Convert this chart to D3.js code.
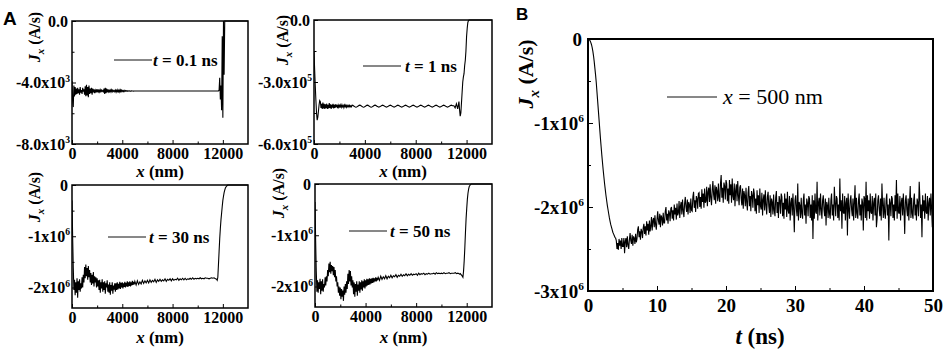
<!DOCTYPE html>
<html>
<head>
<meta charset="utf-8">
<script src="https://d3js.org/d3.v7.min.js"></script>
<style>
body { margin: 0; background: #fff; }
svg text { font-family: "Liberation Serif", "Times New Roman", serif; font-weight: bold; fill: #000; }
</style>
</head>
<body>
<script>
// Size of the figure
const width = 951, height = 353;

// ---------- data ----------
// Panel A: J_x along x (nm) at four times.
// Shared grid: every 50 nm up to 4950, every 100 nm up to 11400, then the edge region
const xTailA = [11450, 11500, 11550, 11600, 11650, 11700, 11750, 11800, 11850, 11900, 11950, 12000,
                12050, 12100, 12150, 12200, 12250, 12300, 12350, 12400, 12450, 12500, 12600, 13000, 14000];
const xGridA = d3.range(0, 5000, 50).concat(d3.range(5000, 11401, 100), xTailA);

// t = 0.1 ns, in 1e3 A/s
const jxT01 = [
  // 0 - 4950 (50 nm)
  -3.9, -5.2, -5.6, -4.2, -4.9, -4.3, -4.8, -4.4, -4.75, -4.35,
  -4.7, -4.45, -4.8, -4.3, -4.65, -4.5, -4.75, -4.35, -4.6, -4.45,
  -4.8, -4.25, -4.9, -4.15, -4.85, -4.3, -4.95, -4.2, -4.75, -4.4,
  -4.7, -4.35, -4.8, -4.4, -4.65, -4.45, -4.7, -4.5, -4.6, -4.45,
  -4.65, -4.45, -4.6, -4.5, -4.62, -4.48, -4.6, -4.5, -4.58, -4.52,
  -4.6, -4.4, -4.75, -4.35, -4.7, -4.4, -4.65, -4.45, -4.6, -4.5,
  -4.6, -4.5, -4.62, -4.48, -4.6, -4.5, -4.58, -4.52, -4.6, -4.5,
  -4.62, -4.46, -4.64, -4.48, -4.6, -4.5, -4.62, -4.49, -4.6, -4.5,
  -4.58, -4.52, -4.59, -4.51, -4.58, -4.53, -4.57, -4.53, -4.57, -4.54,
  -4.56, -4.54, -4.56, -4.55, -4.56, -4.54, -4.55, -4.55, -4.56, -4.55,
  // 5000 - 11400 (100 nm)
  -4.55, -4.55, -4.55, -4.55, -4.55, -4.55, -4.55, -4.55, -4.55, -4.55,
  -4.55, -4.55, -4.55, -4.55, -4.55, -4.55, -4.55, -4.55, -4.55, -4.55,
  -4.55, -4.55, -4.55, -4.55, -4.55, -4.55, -4.55, -4.55, -4.55, -4.55,
  -4.55, -4.55, -4.55, -4.55, -4.55, -4.55, -4.55, -4.55, -4.55, -4.55,
  -4.55, -4.55, -4.55, -4.55, -4.55, -4.55, -4.55, -4.55, -4.55, -4.55,
  -4.55, -4.55, -4.55, -4.55, -4.55, -4.55, -4.55, -4.55, -4.55, -4.55,
  -4.55, -4.55, -4.55, -4.55, -4.55,
  // edge
  -4.55, -4.55, -4.55, -4.55, -4.55, -4.5, -3.7, -5.1, -4.2, -5.8, -1.0, -6.3,
  0, -3.5, 0, 0, 0, 0, 0, 0, 0, 0, 0, 0, 0
];

// t = 1 ns, in 1e5 A/s
const jxT1 = [
  -1.5, -2.4, -3.2, -3.9, -4.5, -4.85, -4.7, -4.4, -4.1, -3.9,
  -3.95, -4.25, -4.05, -4.3, -4.0, -4.28, -4.05, -4.3, -4.08, -4.26,
  -4.05, -4.3, -4.1, -4.28, -4.02, -4.25, -4.08, -4.3, -4.1, -4.24,
  -4.06, -4.28, -4.1, -4.25, -4.08, -4.22, -4.1, -4.26, -4.12, -4.22,
  -4.1, -4.24, -4.12, -4.22, -4.1, -4.2, -4.14, -4.24, -4.12, -4.2,
  -4.12, -4.22, -4.13, -4.2, -4.14, -4.21, -4.13, -4.2, -4.15, -4.2,
  -4.12, -4.13, -4.15, -4.17, -4.19, -4.21, -4.22, -4.21, -4.19, -4.17,
  -4.15, -4.13, -4.12, -4.13, -4.15, -4.17, -4.19, -4.21, -4.22, -4.21,
  -4.19, -4.17, -4.15, -4.13, -4.12, -4.13, -4.15, -4.17, -4.19, -4.21,
  -4.22, -4.21, -4.19, -4.17, -4.15, -4.13, -4.12, -4.13, -4.15, -4.17,
  // 5000 - 11400
  -4.19, -4.22, -4.19, -4.15, -4.12, -4.15, -4.19, -4.22, -4.19, -4.15,
  -4.12, -4.15, -4.19, -4.22, -4.19, -4.15, -4.12, -4.15, -4.19, -4.22,
  -4.19, -4.15, -4.12, -4.15, -4.19, -4.22, -4.19, -4.15, -4.12, -4.15,
  -4.19, -4.22, -4.19, -4.15, -4.12, -4.15, -4.19, -4.22, -4.19, -4.15,
  -4.12, -4.15, -4.19, -4.22, -4.19, -4.15, -4.12, -4.15, -4.19, -4.22,
  -4.19, -4.15, -4.12, -4.15, -4.19, -4.22, -4.19, -4.15, -4.12, -4.15,
  -4.15, -4.25, -4.05, -4.3, -3.95,
  // edge
  -4.35, -4.65, -4.5, -4.0, -3.5, -3.0, -2.75, -2.6, -2.2, -1.95, -1.5, -0.8,
  -0.4, -0.12, -0.03, 0, 0, 0, 0, 0, 0, 0, 0, 0, 0
];

// t = 30 ns, in 1e6 A/s
const jxT30 = [
  -0.3, -1.0, -1.6, -2.05, -1.85, -2.15, -1.9, -2.1, -1.82, -2.2,
  -1.88, -2.05, -1.84, -2.08, -1.92, -2.02, -1.8, -2.0, -1.75, -1.9,
  -1.6, -1.82, -1.55, -1.78, -1.62, -1.85, -1.58, -1.8, -1.66, -1.9,
  -1.72, -1.95, -1.75, -1.92, -1.7, -1.98, -1.78, -1.9, -1.8, -2.0,
  -1.82, -1.98, -1.86, -2.05, -1.85, -2.1, -1.9, -2.02, -1.84, -2.08,
  -1.9, -2.05, -1.88, -2.12, -1.92, -2.0, -1.86, -2.08, -1.94, -2.1,
  -1.9, -2.14, -1.95, -2.06, -1.9, -2.12, -1.96, -2.04, -1.92, -2.08,
  -1.92, -2.05, -1.9, -2.04, -1.93, -2.02, -1.89, -2.03, -1.91, -2.0,
  -1.9, -2.02, -1.92, -1.99, -1.89, -2.0, -1.91, -1.98, -1.88, -1.99,
  -1.9, -1.97, -1.88, -1.98, -1.9, -1.96, -1.87, -1.95, -1.89, -1.94,
  // 5000 - 11400
  -1.88, -1.95, -1.87, -1.94, -1.89, -1.93, -1.86, -1.92, -1.87, -1.91,
  -1.86, -1.91, -1.85, -1.9, -1.86, -1.89, -1.84, -1.9, -1.85, -1.88,
  -1.84, -1.88, -1.85, -1.87, -1.83, -1.88, -1.84, -1.86, -1.83, -1.87,
  -1.83, -1.86, -1.84, -1.85, -1.82, -1.86, -1.83, -1.85, -1.82, -1.85,
  -1.82, -1.85, -1.83, -1.84, -1.82, -1.84, -1.81, -1.84, -1.82, -1.83,
  -1.82, -1.83, -1.81, -1.83, -1.82, -1.83, -1.81, -1.82, -1.82, -1.83,
  -1.82, -1.81, -1.82, -1.81, -1.83,
  // edge
  -1.83, -1.84, -1.86, -1.8, -1.55, -1.3, -1.05, -0.85, -0.68, -0.55, -0.42, -0.3,
  -0.22, -0.15, -0.1, -0.06, -0.04, -0.02, -0.01, 0, 0, 0, 0, 0, 0
];

// t = 50 ns, in 1e6 A/s
const jxT50 = [
  -0.35, -1.1, -1.7, -2.1, -1.88, -2.12, -1.92, -2.05, -1.85, -2.15,
  -1.9, -2.08, -1.86, -2.1, -1.95, -2.02, -1.82, -1.98, -1.8, -1.9,
  -1.68, -1.8, -1.55, -1.72, -1.52, -1.75, -1.58, -1.7, -1.6, -1.78,
  -1.62, -1.82, -1.68, -1.9, -1.8, -2.0, -1.92, -2.12, -2.0, -2.18,
  -2.02, -2.25, -2.05, -2.2, -2.08, -2.28, -2.0, -2.16, -1.95, -2.12,
  -1.9, -2.05, -1.75, -1.95, -1.68, -1.9, -1.7, -1.98, -1.8, -2.02,
  -1.88, -2.15, -1.92, -2.2, -1.95, -2.1, -1.9, -2.18, -1.96, -2.08,
  -1.9, -2.12, -1.92, -2.06, -1.88, -2.08, -1.9, -2.02, -1.86, -2.04,
  -1.88, -2.0, -1.85, -1.98, -1.86, -1.97, -1.84, -1.96, -1.85, -1.94,
  -1.84, -1.93, -1.83, -1.92, -1.84, -1.9, -1.82, -1.9, -1.83, -1.88,
  // 5000 - 11400
  -1.82, -1.88, -1.8, -1.86, -1.81, -1.85, -1.79, -1.85, -1.8, -1.83,
  -1.78, -1.83, -1.79, -1.81, -1.77, -1.82, -1.78, -1.8, -1.76, -1.8,
  -1.77, -1.79, -1.75, -1.79, -1.76, -1.78, -1.75, -1.78, -1.76, -1.77,
  -1.75, -1.78, -1.74, -1.77, -1.75, -1.76, -1.74, -1.77, -1.75, -1.76,
  -1.74, -1.76, -1.75, -1.75, -1.74, -1.76, -1.73, -1.75, -1.74, -1.75,
  -1.74, -1.75, -1.73, -1.75, -1.74, -1.74, -1.73, -1.75, -1.74, -1.74,
  -1.74, -1.73, -1.75, -1.74, -1.75,
  // edge
  -1.76, -1.75, -1.77, -1.78, -1.8, -1.82, -1.7, -1.5, -1.25, -0.95, -0.68, -0.48,
  -0.3, -0.18, -0.1, -0.05, -0.03, -0.01, 0, 0, 0, 0, 0, 0, 0
];

// Panel B: J_x at x = 500 nm, sampled every 0.1 ns from 0 to 50 ns, in 1e6 A/s
const tStepB = 0.1;
const jxX500 = [
  // 0 - 4.0 ns
  0, -0.003, -0.01, -0.02, -0.04, -0.065, -0.1, -0.145, -0.2, -0.27,
  -0.35, -0.43, -0.52, -0.63, -0.74, -0.85, -0.96, -1.07, -1.18, -1.28,
  -1.38, -1.47, -1.56, -1.64, -1.72, -1.79, -1.86, -1.92, -1.98, -2.03,
  -2.08, -2.13, -2.17, -2.21, -2.24, -2.27, -2.30, -2.32, -2.34, -2.36,
  -2.37,
  // 4.1 - 50 ns
  -2.40, -2.50, -2.43, -2.51, -2.38, -2.46, -2.40, -2.50, -2.37, -2.47,
  -2.47, -2.37, -2.55, -2.41, -2.37, -2.48, -2.35, -2.45, -2.50, -2.39,
  -2.31, -2.40, -2.44, -2.33, -2.46, -2.35, -2.37, -2.44, -2.32, -2.42,
  -2.38, -2.27, -2.23, -2.36, -2.29, -2.39, -2.26, -2.29, -2.37, -2.25,
  -2.20, -2.32, -2.23, -2.34, -2.17, -2.28, -2.20, -2.33, -2.16, -2.29,
  -2.23, -2.12, -2.28, -2.16, -2.13, -2.24, -2.10, -2.21, -2.27, -2.15,
  -2.05, -2.16, -2.21, -2.08, -2.24, -2.10, -2.13, -2.22, -2.07, -2.19,
  -2.19, -2.05, -2.00, -2.16, -2.08, -2.20, -2.04, -2.07, -2.17, -2.02,
  -2.00, -2.14, -2.04, -2.16, -1.97, -2.09, -2.01, -2.15, -1.96, -2.10,
  -2.07, -1.93, -2.13, -1.99, -1.94, -2.09, -1.91, -2.04, -2.12, -1.96,
  -1.88, -2.00, -2.06, -1.91, -2.09, -1.94, -1.97, -2.07, -1.90, -2.04,
  -2.05, -1.88, -1.82, -2.01, -1.92, -2.06, -1.87, -1.90, -2.02, -1.84,
  -1.83, -2.00, -1.88, -2.02, -1.79, -1.94, -1.84, -2.01, -1.78, -1.95,
  -1.93, -1.76, -1.99, -1.82, -1.77, -1.94, -1.73, -1.89, -1.98, -1.80,
  -1.69, -1.85, -1.92, -1.74, -1.96, -1.76, -1.81, -1.93, -1.72, -1.89,
  -1.94, -1.72, -1.62, -1.89, -1.77, -1.95, -1.71, -1.75, -1.91, -1.68,
  -1.72, -1.93, -1.78, -1.96, -1.68, -1.86, -1.73, -1.95, -1.66, -1.87,
  -1.92, -1.72, -1.99, -1.80, -1.73, -1.93, -1.69, -1.87, -1.98, -1.77,
  -1.74, -1.90, -1.98, -1.78, -2.02, -1.81, -1.86, -1.99, -1.77, -1.95,
  -2.04, -1.83, -1.75, -1.99, -1.87, -2.05, -1.81, -1.86, -2.01, -1.78,
  -1.84, -2.05, -1.90, -2.08, -1.80, -1.98, -1.86, -2.07, -1.78, -1.99,
  -2.03, -1.83, -2.10, -1.91, -1.85, -2.04, -1.80, -1.98, -2.09, -1.88,
  -1.82, -1.99, -2.07, -1.86, -2.12, -1.90, -1.94, -2.09, -1.85, -2.04,
  -2.11, -1.89, -1.81, -2.07, -1.94, -2.13, -1.87, -1.92, -2.08, -1.84,
  -1.88, -2.11, -1.95, -2.14, -1.84, -2.03, -1.90, -2.12, -1.82, -2.04,
  -2.08, -1.87, -2.16, -1.95, -1.89, -2.10, -1.84, -2.03, -2.30, -1.92,
  -1.86, -2.03, -2.11, -1.72, -2.16, -1.94, -1.98, -2.13, -1.89, -2.08,
  -2.14, -1.92, -1.84, -2.10, -1.97, -2.20, -1.90, -1.95, -2.11, -1.87,
  -1.90, -2.13, -1.97, -2.16, -1.86, -2.38, -1.92, -2.14, -1.84, -2.06,
  -2.08, -1.70, -2.16, -1.95, -1.89, -2.10, -1.84, -2.03, -2.14, -1.92,
  -1.86, -2.03, -2.11, -1.90, -2.22, -1.94, -1.98, -2.13, -1.89, -2.08,
  -2.14, -1.92, -1.84, -2.10, -1.97, -2.16, -1.76, -1.95, -2.11, -1.87,
  -1.90, -2.13, -1.97, -2.16, -1.66, -2.05, -1.92, -2.26, -1.84, -2.06,
  -2.08, -1.87, -2.16, -1.95, -1.89, -2.34, -1.84, -2.03, -2.14, -1.92,
  -1.86, -2.03, -2.11, -1.90, -2.16, -1.94, -1.74, -2.13, -1.89, -2.08,
  -2.14, -1.92, -1.84, -2.10, -1.97, -2.16, -1.90, -1.95, -2.28, -1.87,
  -1.90, -2.13, -1.70, -2.16, -1.86, -2.05, -1.92, -2.14, -1.84, -2.06,
  -2.08, -1.87, -2.16, -1.95, -1.89, -2.10, -1.84, -2.24, -2.14, -1.92,
  -1.86, -2.03, -2.11, -1.90, -2.16, -1.72, -1.98, -2.13, -1.89, -2.08,
  -2.14, -1.92, -1.84, -2.10, -1.97, -2.40, -1.90, -1.95, -2.11, -1.87,
  -1.90, -2.13, -1.97, -2.16, -1.86, -2.05, -1.68, -2.14, -1.84, -2.06,
  -2.08, -1.87, -2.16, -1.95, -1.89, -2.10, -1.84, -2.03, -2.32, -1.92,
  -1.86, -2.03, -2.11, -1.90, -2.16, -1.94, -1.75, -2.13, -1.89, -2.08,
  -2.14, -1.92, -1.84, -2.10, -1.97, -2.16, -1.90, -1.95, -2.11, -1.70,
  -1.90, -2.13, -1.97, -2.36, -1.86, -2.05, -1.92, -2.14, -1.84, -2.06,
  -2.08, -1.87, -2.16, -1.95, -1.89, -2.10, -1.84, -2.03, -2.24, -2.00
];
const tB = jxX500.map((d, i) => i * tStepB);

// tick labels
const xTicksA = [0, 4000, 8000, 12000];
const xTicksB = [0, 10, 20, 30, 40, 50];

// ---------- panels (layout) ----------
const panels = [
  { id: "a1", left: 72, right: 248, top: 21, bottom: 144, xs: xGridA, ys: jxT01,
    xDomain: [0, 14000], yDomain: [-8, 0], xTicks: xTicksA, xMinor: [2000, 6000, 10000],
    yTicks: [0, -4, -8], yMinor: [-2, -6], yLab: [["0.0", ""], ["-4.0x10", "3"], ["-8.0x10", "3"]],
    legend: "0.1", lx: 114, ly: 60, tx: 153, ylx: 40, yly: 37, xTitleY: 177 },
  { id: "a2", left: 314, right: 492, top: 20, bottom: 144, xs: xGridA, ys: jxT1,
    xDomain: [0, 14000], yDomain: [-6, 0], xTicks: xTicksA, xMinor: [2000, 6000, 10000],
    yTicks: [0, -3, -6], yMinor: [-1.5, -4.5], yLab: [["0.0", ""], ["-3.0x10", "5"], ["-6.0x10", "5"]],
    legend: "1", lx: 363, ly: 66, tx: 405, ylx: 288, yly: 40, xTitleY: 177 },
  { id: "a3", left: 72, right: 248, top: 185, bottom: 308, xs: xGridA, ys: jxT30,
    xDomain: [0, 14000], yDomain: [-2.4, 0], xTicks: xTicksA, xMinor: [2000, 6000, 10000],
    yTicks: [0, -1, -2], yMinor: [-0.5, -1.5], yLab: [["0", ""], ["-1x10", "6"], ["-2x10", "6"]],
    legend: "30", lx: 108, ly: 237, tx: 149, ylx: 40, yly: 197, xTitleY: 343 },
  { id: "a4", left: 315, right: 492, top: 184, bottom: 307, xs: xGridA, ys: jxT50,
    xDomain: [0, 14000], yDomain: [-2.4, 0], xTicks: xTicksA, xMinor: [2000, 6000, 10000],
    yTicks: [0, -1, -2], yMinor: [-0.5, -1.5], yLab: [["0", ""], ["-1x10", "6"], ["-2x10", "6"]],
    legend: "50", lx: 349, ly: 231, tx: 390, ylx: 284, yly: 193, xTitleY: 343 }
];

const svg = d3.select("body").append("svg")
  .attr("width", width).attr("height", height);

// writes "mantissa" + superscript exponent into a tick text
function supLabel(sel, labels, gap, fs) {
  sel.selectAll(".tick text").each(function(d, i) {
    const t = d3.select(this).text(null);
    const lab = labels[i];
    t.append("tspan").text(lab[0]);
    if (lab[1]) {
      t.attr("x", -gap);
      t.append("tspan").attr("dy", -fs * 0.4).attr("font-size", fs * 0.6).text(lab[1]);
    } else {
      t.attr("x", -gap - 2);
    }
  });
}

function drawA(p) {
  const x = d3.scaleLinear().domain(p.xDomain).range([p.left, p.right]);
  const y = d3.scaleLinear().domain(p.yDomain).range([p.bottom, p.top]);
  const g = svg.append("g");

  g.append("clipPath").attr("id", "clip-" + p.id)
    .append("rect").attr("x", p.left).attr("y", p.top - 1)
    .attr("width", p.right - p.left).attr("height", p.bottom - p.top + 1);

  g.append("path")
    .datum(p.xs.map((v, i) => [v, p.ys[i]]))
    .attr("clip-path", `url(#clip-${p.id})`)
    .attr("fill", "none").attr("stroke", "#000").attr("stroke-width", 1.1)
    .attr("d", d3.line().x(d => x(d[0])).y(d => y(d[1])));

  // x axis (ticks point inward)
  g.append("g").attr("transform", `translate(0,${p.bottom})`)
    .call(d3.axisBottom(x).tickValues(p.xMinor).tickSize(-2.5).tickFormat(""))
    .call(a => a.select(".domain").remove());
  g.append("g").attr("transform", `translate(0,${p.bottom})`)
    .call(d3.axisBottom(x).tickValues(p.xTicks).tickSize(-4).tickPadding(4).tickFormat(d3.format("d")))
    .attr("font-size", 16)
    .call(a => a.select(".domain").remove());

  // y axis
  g.append("g").attr("transform", `translate(${p.left},0)`)
    .call(d3.axisLeft(y).tickValues(p.yMinor).tickSize(-2.5).tickFormat(""))
    .call(a => a.select(".domain").remove());
  g.append("g").attr("transform", `translate(${p.left},0)`)
    .call(d3.axisLeft(y).tickValues(p.yTicks).tickSize(-4).tickPadding(2))
    .attr("font-size", 16)
    .call(a => a.select(".domain").remove())
    .call(a => supLabel(a, p.yLab, 2, 16));

  g.append("rect")
    .attr("x", p.left).attr("y", p.top)
    .attr("width", p.right - p.left).attr("height", p.bottom - p.top)
    .attr("fill", "none").attr("stroke", "#000").attr("stroke-width", 1.5);

  // legend
  g.append("line").attr("x1", p.lx).attr("x2", p.lx + 38)
    .attr("y1", p.ly).attr("y2", p.ly).attr("stroke", "#111").attr("stroke-width", 1);
  const lt = g.append("text").attr("x", p.tx).attr("y", p.ly + 6).attr("font-size", 17);
  lt.append("tspan").attr("font-style", "italic").text("t");
  lt.append("tspan").text(" = " + p.legend + " ns");

  // axis titles
  const xt = g.append("text").attr("x", (p.left + p.right) / 2).attr("y", p.xTitleY)
    .attr("text-anchor", "middle").attr("font-size", 17);
  xt.append("tspan").attr("font-style", "italic").text("x");
  xt.append("tspan").text(" (nm)");

  const yt = g.append("text")
    .attr("transform", `translate(${p.ylx},${p.yly}) rotate(-90)`)
    .attr("text-anchor", "middle").attr("font-size", 16);
  yt.append("tspan").attr("font-style", "italic").text("J");
  yt.append("tspan").attr("font-style", "italic").attr("font-size", 11).attr("dy", 4).text("x");
  yt.append("tspan").attr("dy", -4).text(" (A/s)");
}

panels.forEach(drawA);

// ---------- panel B ----------
const bL = 588, bR = 933, bT = 39, bB = 291;
const xB = d3.scaleLinear().domain([0, 50]).range([bL, bR]);
const yB = d3.scaleLinear().domain([-3, 0]).range([bB, bT]);
const gB = svg.append("g");

gB.append("clipPath").attr("id", "clip-b")
  .append("rect").attr("x", bL).attr("y", bT).attr("width", bR - bL).attr("height", bB - bT);

gB.append("path")
  .datum(jxX500.map((v, i) => [tB[i], v]))
  .attr("clip-path", "url(#clip-b)")
  .attr("fill", "none").attr("stroke", "#000").attr("stroke-width", 1.1)
  .attr("d", d3.line().x(d => xB(d[0])).y(d => yB(d[1])));

gB.append("g").attr("transform", `translate(0,${bB})`)
  .call(d3.axisBottom(xB).tickValues([5, 15, 25, 35, 45]).tickSize(-3).tickFormat(""))
  .call(a => a.select(".domain").remove());
gB.append("g").attr("transform", `translate(0,${bB})`)
  .call(d3.axisBottom(xB).tickValues(xTicksB).tickSize(-5).tickPadding(8))
  .attr("font-size", 19)
  .call(a => a.select(".domain").remove());

gB.append("g").attr("transform", `translate(${bL},0)`)
  .call(d3.axisLeft(yB).tickValues([-0.5, -1.5, -2.5]).tickSize(-3).tickFormat(""))
  .call(a => a.select(".domain").remove());
gB.append("g").attr("transform", `translate(${bL},0)`)
  .call(d3.axisLeft(yB).tickValues([0, -1, -2, -3]).tickSize(-5).tickPadding(4))
  .attr("font-size", 19)
  .call(a => a.select(".domain").remove())
  .call(a => supLabel(a, [["0", ""], ["-1x10", "6"], ["-2x10", "6"], ["-3x10", "6"]], 4, 19));

gB.append("rect")
  .attr("x", bL).attr("y", bT).attr("width", bR - bL).attr("height", bB - bT)
  .attr("fill", "none").attr("stroke", "#000").attr("stroke-width", 2);

// legend
gB.append("line").attr("x1", 667).attr("x2", 717).attr("y1", 97).attr("y2", 97)
  .attr("stroke", "#111").attr("stroke-width", 1);
const lb = gB.append("text").attr("x", 723).attr("y", 104)
  .attr("font-size", 22).style("font-weight", "normal");
lb.append("tspan").attr("font-style", "italic").text("x");
lb.append("tspan").text(" = 500 nm");

// axis titles
const tTitle = gB.append("text").attr("x", 760).attr("y", 344)
  .attr("text-anchor", "middle").attr("font-size", 23);
tTitle.append("tspan").attr("font-style", "italic").text("t");
tTitle.append("tspan").text(" (ns)");

const jTitle = gB.append("text")
  .attr("transform", "translate(533,74) rotate(-90)")
  .attr("text-anchor", "middle").attr("font-size", 22);
jTitle.append("tspan").attr("font-style", "italic").text("J");
jTitle.append("tspan").attr("font-style", "italic").attr("font-size", 15).attr("dy", 6).text("x");
jTitle.append("tspan").attr("dy", -6).text(" (A/s)");

// panel letters
svg.append("text").attr("x", 3).attr("y", 25)
  .style("font-family", "'Liberation Sans', Arial, sans-serif").attr("font-size", 19).text("A");
svg.append("text").attr("x", 516).attr("y", 20)
  .style("font-family", "'Liberation Sans', Arial, sans-serif").attr("font-size", 17).text("B");
</script>
</body>
</html>
